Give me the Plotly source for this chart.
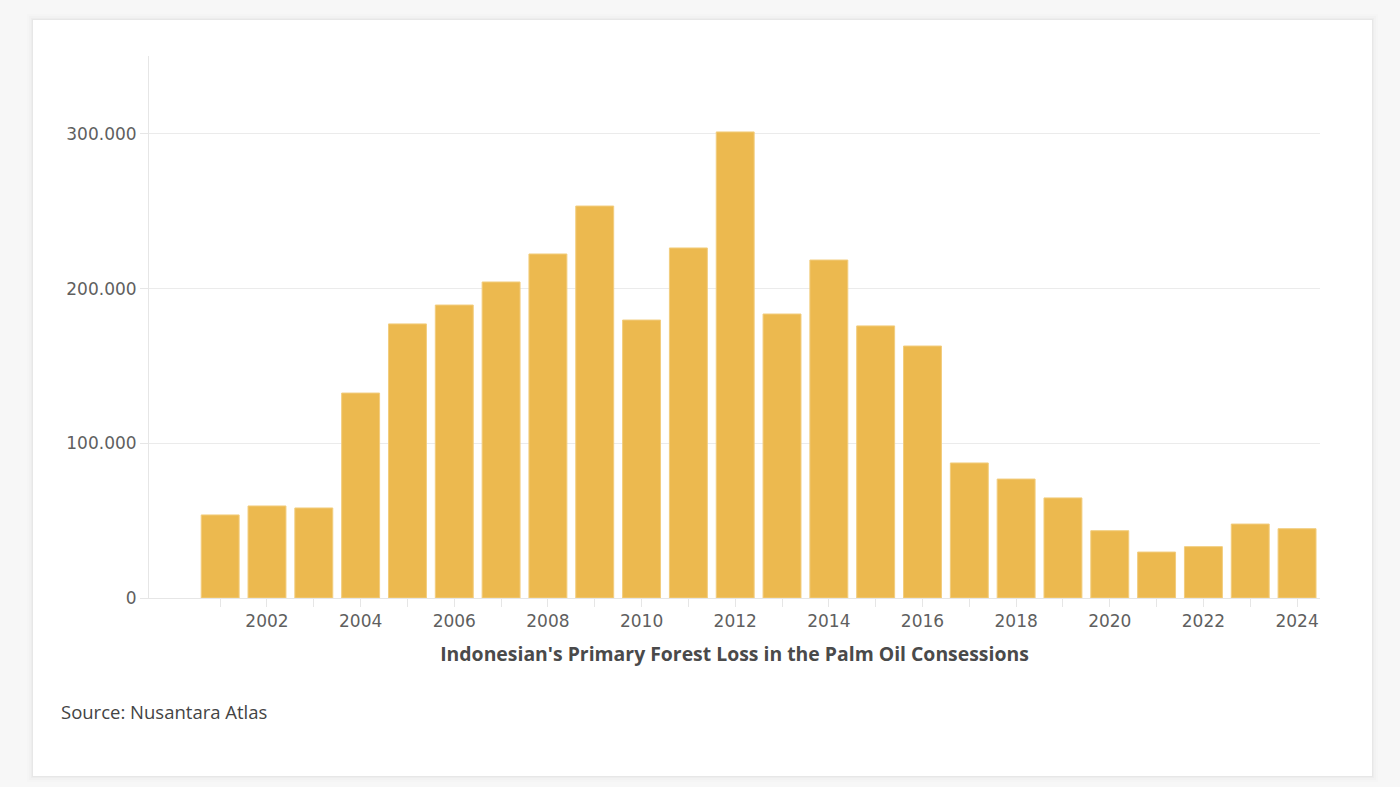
import plotly.graph_objects as go

years = list(range(2001, 2025))
loss = [53700, 59500, 58200, 132500, 177200, 189400, 204300, 222400, 253400,
        179700, 226300, 301300, 183600, 218500, 175900, 162900, 87300, 76900,
        64700, 43500, 29700, 33200, 47800, 44800]

x_tickvals = list(range(2002, 2025, 2))
x_ticktext = [str(v) for v in x_tickvals]
x_minor_vals = list(range(2001, 2025, 2))
y_tickvals = [0, 100000, 200000, 300000]
y_ticktext = ["0", "100.000", "200.000", "300.000"]

title_text = "Indonesian's Primary Forest Loss in the Palm Oil Consessions"
source_text = "Source: Nusantara Atlas"

W, H = 1400, 787
L, R, T, B = 149, 80, 56, 189
pw, ph = W - L - R, H - T - B


def px(x):
    return (x - L) / pw


def py(y):
    return (H - B - y) / ph


fig = go.Figure()
fig.add_trace(go.Bar(
    x=years, y=loss,
    marker=dict(color="#ECB94F", line=dict(width=1, color="#F2CD7E")),
    width=0.81,
    hoverinfo="x+y",
))

shapes = []
# soft card shadow
for d, op in [(6, 0.008), (4, 0.012), (2, 0.018), (1, 0.025)]:
    shapes.append(dict(type="rect", xref="paper", yref="paper", layer="below",
                       x0=px(33 - d), x1=px(1372 + d), y0=py(776 + d), y1=py(20 - d),
                       fillcolor=f"rgba(0,0,0,{op})", line=dict(width=0)))
shapes.append(dict(type="rect", xref="paper", yref="paper", layer="below",
                   x0=px(33), x1=px(1372), y0=py(776), y1=py(20),
                   fillcolor="#FFFFFF", line=dict(width=0)))

tick_font = dict(size=17, color="#5F5F5F", family="DejaVu Sans, sans-serif")

fig.update_layout(
    width=W, height=H,
    margin=dict(l=L, r=R, t=T, b=B, pad=0),
    paper_bgcolor="#F7F7F7",
    plot_bgcolor="rgba(0,0,0,0)",
    showlegend=False,
    shapes=shapes,
    font=dict(family="Open Sans, sans-serif", color="#5A5A5A"),
    xaxis=dict(
        range=[1999.48, 2024.49],
        tickvals=x_tickvals, ticktext=x_ticktext,
        ticks="outside", ticklen=8, tickcolor="#E6E6E6", tickwidth=1,
        minor=dict(tickvals=x_minor_vals, ticks="outside", ticklen=8,
                   tickcolor="#E6E6E6", tickwidth=1, showgrid=False),
        showline=True, linecolor="#E6E6E6", linewidth=1,
        showgrid=False, zeroline=False,
        tickfont=tick_font,
        title=dict(text=f"<b>{title_text}</b>", standoff=17,
                   font=dict(size=19.4, color="#4A4A4A", family="Open Sans, sans-serif")),
        fixedrange=True,
    ),
    yaxis=dict(
        range=[0, 350400],
        tickvals=y_tickvals, ticktext=y_ticktext,
        ticks="outside", ticklen=8, tickcolor="#E6E6E6", tickwidth=1,
        showline=True, linecolor="#E6E6E6", linewidth=1,
        showgrid=True, gridcolor="#EBEBEB", gridwidth=1,
        zeroline=False,
        tickfont=tick_font,
        fixedrange=True,
    ),
    annotations=[dict(
        text=source_text, xref="paper", yref="paper",
        x=px(59), y=py(711), xanchor="left", yanchor="middle", showarrow=False,
        font=dict(size=18.5, color="#444444", family="Open Sans, sans-serif"),
    )],
)

fig.write_html("out.html")
